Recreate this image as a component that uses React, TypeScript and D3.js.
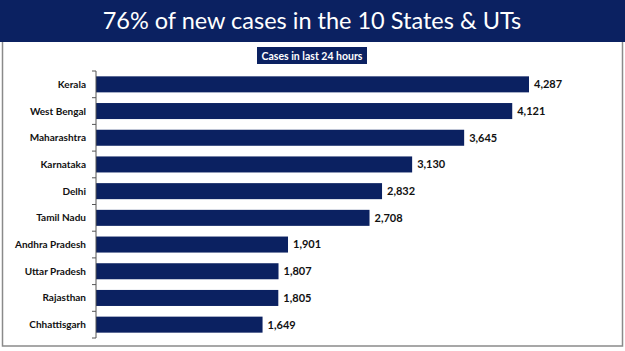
import React from "react";
import * as d3 from "d3";

const states = ["Kerala","West Bengal","Maharashtra","Karnataka","Delhi","Tamil Nadu","Andhra Pradesh","Uttar Pradesh","Rajasthan","Chhattisgarh"];
const cases = [4287,4121,3645,3130,2832,2708,1901,1807,1805,1649];
const title = "76% of new cases in the 10 States & UTs";
const subtitle = "Cases in last 24 hours";

const W = 625, H = 351;
const NAVY = "#0b2161";

export default function App() {
  const x = d3.scaleLinear().domain([0, 4287]).range([96, 529]);
  const y = d3.scaleBand().domain(states).range([71, 338]).paddingInner(0.4).paddingOuter(0.2);
  const boundaries = d3.range(states.length + 1).map(i => 71 + (338 - 71) * i / states.length);
  const fmt = d3.format(",");
  const font = "Lato, 'Open Sans', sans-serif";
  return (
    <svg width={W} height={H} style={{ position: "absolute", left: 0, top: 0 }} fontFamily={font}>
      <rect x={0} y={0} width={W} height={H} fill="#fff" />
      <rect x={2.5} y={40} width={620} height={306} fill="none" stroke="#8a8a8a" strokeWidth={1.5} />
      <rect x={0} y={0} width={W} height={42} fill={NAVY} />
      <text x={312} y={29} textAnchor="middle" fill="#fff" fontSize={23.5} fontFamily="Lato, sans-serif">{title}</text>
      <rect x={257} y={47} width={110} height={17} fill={NAVY} />
      <text x={312} y={59.5} textAnchor="middle" fill="#fff" fontSize={10.5} fontWeight="bold">{subtitle}</text>
      {states.map((s, i) => (
        <g key={s}>
          <rect x={x(0)} y={y(s)!} width={x(cases[i]) - x(0)} height={y.bandwidth()} fill={NAVY} />
          <text x={86} y={y(s)! + y.bandwidth() / 2} dy="0.35em" textAnchor="end" fontSize={10} fontWeight="bold" fill="#111">{s}</text>
          <text x={x(cases[i]) + 5} y={y(s)! + y.bandwidth() / 2} dy="0.35em" fontSize={11} fontWeight="bold" fill="#111">{fmt(cases[i])}</text>
        </g>
      ))}
      <line x1={96} x2={96} y1={71} y2={338} stroke="#555" strokeWidth={1} />
      {boundaries.map((b, i) => (
        <line key={i} x1={92} x2={96} y1={b} y2={b} stroke="#555" strokeWidth={1} />
      ))}
    </svg>
  );
}
